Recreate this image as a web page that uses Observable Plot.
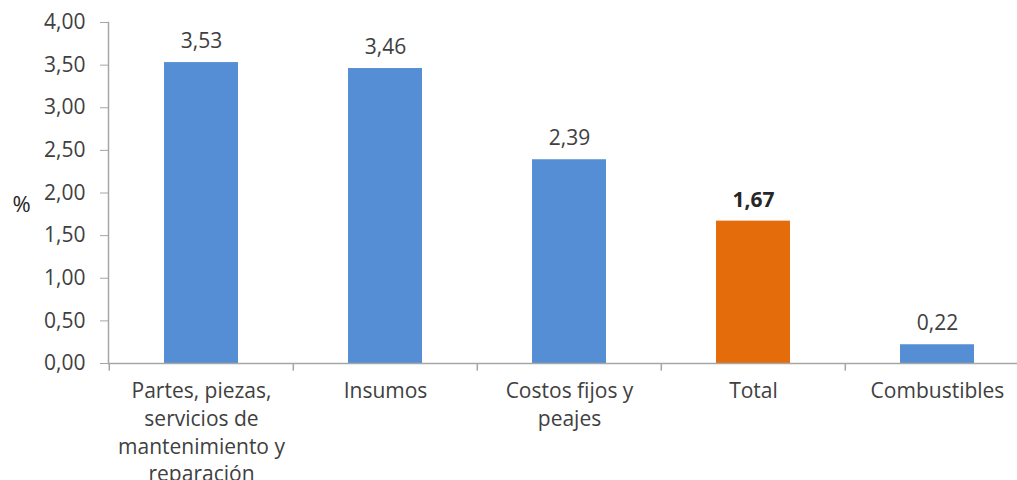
<!DOCTYPE html>
<html>
<head>
<meta charset="utf-8">
<script src="https://cdn.jsdelivr.net/npm/d3@7"></script>
<script src="https://cdn.jsdelivr.net/npm/@observablehq/plot@0.6"></script>
<style>
  html, body { margin: 0; padding: 0; background: #fff; }
  #chart svg { display: block; }
</style>
</head>
<body>
<div id="chart"></div>
<script>
const categories = ["Partes, piezas, servicios de mantenimiento y reparación", "Insumos", "Costos fijos y peajes", "Total", "Combustibles"];
const values = [3.53, 3.46, 2.39, 1.67, 0.22];
const tickLabels = ["Partes, piezas,\nservicios de\nmantenimiento y\nreparación", "Insumos", "Costos fijos y\npeajes", "Total", "Combustibles"];
const highlight = "Total";
const yTicks = [0, 0.5, 1, 1.5, 2, 2.5, 3, 3.5, 4];
const yLabel = "%";

const data = categories.map((c, i) => ({cat: c, value: values[i], label: tickLabels[i]}));
const fmt = d => d.toFixed(2).replace(".", ",");
const blue = "#558ed5", orange = "#e46c0a", textColor = "#404040", axisColor = "#a6a6a6";

const step = 922 / 5;

const chart = Plot.plot({
  width: 1017,
  height: 480,
  marginLeft: 108,
  marginRight: 0,
  marginTop: 22,
  marginBottom: 117,
  style: {fontFamily: "Open Sans", fontSize: "21px", color: textColor, background: "#fff"},
  x: {domain: categories, range: [108, 1030], paddingInner: 0.6, paddingOuter: 0.3, axis: null},
  y: {domain: [0, 4], range: [363, 22], axis: null},
  marks: [
    Plot.frame({anchor: "left", stroke: axisColor, strokeWidth: 1.5}),
    Plot.axisY({ticks: yTicks, tickFormat: fmt, tickSize: 8, tickPadding: 15, stroke: axisColor, fill: textColor, fontSize: 21, label: null}),
    Plot.barY(data, {x: "cat", y: "value", fill: d => d.cat === highlight ? orange : blue}),
    Plot.ruleY([0], {stroke: axisColor, strokeWidth: 1.5}),
    Plot.ruleX(data, {x: "cat", y1: 0, y2: -0.09, dx: -step / 2, stroke: axisColor, strokeWidth: 1.5}),
    Plot.text(data.filter(d => d.cat !== highlight), {x: "cat", y: "value", text: d => fmt(d.value), dy: -21, fill: textColor, fontSize: 21}),
    Plot.text(data.filter(d => d.cat === highlight), {x: "cat", y: "value", text: d => fmt(d.value), dy: -21, fill: "#262626", fontSize: 21, fontWeight: "bold"}),
    Plot.text(data, {x: "cat", y: 0, text: "label", lineAnchor: "top", dy: 15, lineHeight: 1.32, fill: textColor, fontSize: 21}),
    Plot.text([yLabel], {frameAnchor: "left", dx: -87, dy: 12, textAnchor: "middle", fill: "#262626", fontSize: 22})
  ]
});
document.getElementById("chart").appendChild(chart);
</script>
</body>
</html>
